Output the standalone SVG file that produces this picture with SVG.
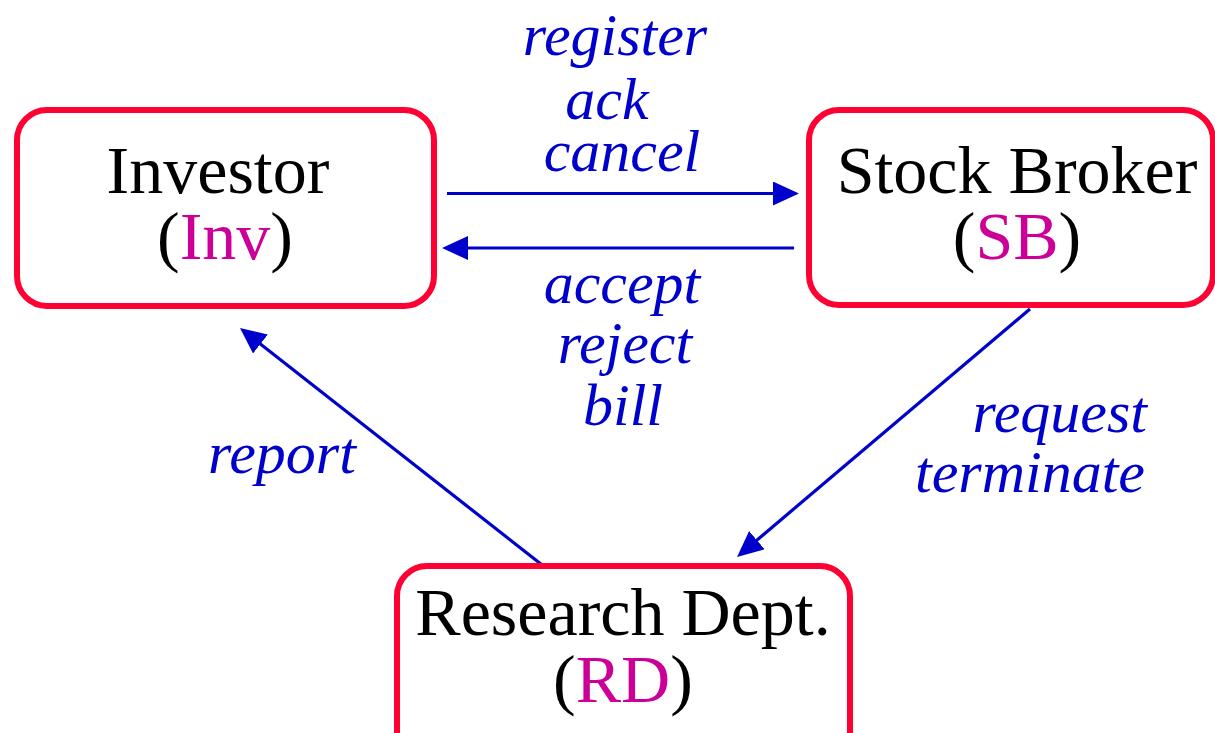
<svg xmlns="http://www.w3.org/2000/svg" width="1215" height="733" viewBox="0 0 1215 733">
  <style>
    .box { fill: #ffffff; stroke: #ff0033; stroke-width: 6; }
    .name { font-family: "Liberation Serif", "DejaVu Serif", serif; font-size: 68px; fill: #000000; text-anchor: middle; }
    .abbr { fill: #cc0099; }
    .edge { stroke: #0000cc; stroke-width: 3.2; fill: none; }
    .msg { font-family: "Liberation Serif", "DejaVu Serif", serif; font-style: italic; font-size: 60px; fill: #0000cc; }
  </style>
  <defs>
    <marker id="head" markerUnits="userSpaceOnUse" markerWidth="28" markerHeight="26" refX="20" refY="12" orient="auto">
      <path d="M0,0 L26,12 L0,24 Z" fill="#0000cc"/>
    </marker>
  </defs>
  <rect width="1215" height="733" fill="#ffffff"/>

  <!-- connectors -->
  <g id="connectors">
    <line class="edge" x1="447" y1="193.5" x2="793" y2="193.5" marker-end="url(#head)"/>
    <line class="edge" x1="794" y1="248" x2="448" y2="248" marker-end="url(#head)"/>
    <line class="edge" x1="546" y1="568" x2="244.7" y2="331.7" marker-end="url(#head)"/>
    <line class="edge" x1="1030" y1="309" x2="741.6" y2="553.1" marker-end="url(#head)"/>
  </g>

  <!-- message labels -->
  <g id="labels">
    <text class="msg" x="615" y="55" text-anchor="middle">register</text>
    <text class="msg" x="607" y="119" text-anchor="middle">ack</text>
    <text class="msg" x="622" y="171" text-anchor="middle">cancel</text>
    <text class="msg" x="622" y="303" text-anchor="middle">accept</text>
    <text class="msg" x="625" y="363" text-anchor="middle">reject</text>
    <text class="msg" x="623" y="425" text-anchor="middle">bill</text>
    <text class="msg" x="1147" y="432" text-anchor="end">request</text>
    <text class="msg" x="1145" y="492" text-anchor="end">terminate</text>
    <text class="msg" x="282" y="473" text-anchor="middle">report</text>
  </g>

  <!-- nodes -->
  <g id="investor">
    <rect class="box" x="17" y="110" width="417" height="196" rx="30"/>
    <text class="name" x="218" y="193">Investor</text>
    <text class="name" x="225" y="259">(<tspan class="abbr">Inv</tspan>)</text>
  </g>
  <g id="stock-broker">
    <rect class="box" x="809" y="110" width="404" height="195" rx="30"/>
    <text class="name" x="1017" y="193">Stock Broker</text>
    <text class="name" x="1017" y="259">(<tspan class="abbr">SB</tspan>)</text>
  </g>
  <g id="research-dept">
    <rect class="box" x="397" y="566" width="453" height="200" rx="30"/>
    <text class="name" x="623" y="635">Research Dept.</text>
    <text class="name" x="623" y="702">(<tspan class="abbr">RD</tspan>)</text>
  </g>
</svg>
